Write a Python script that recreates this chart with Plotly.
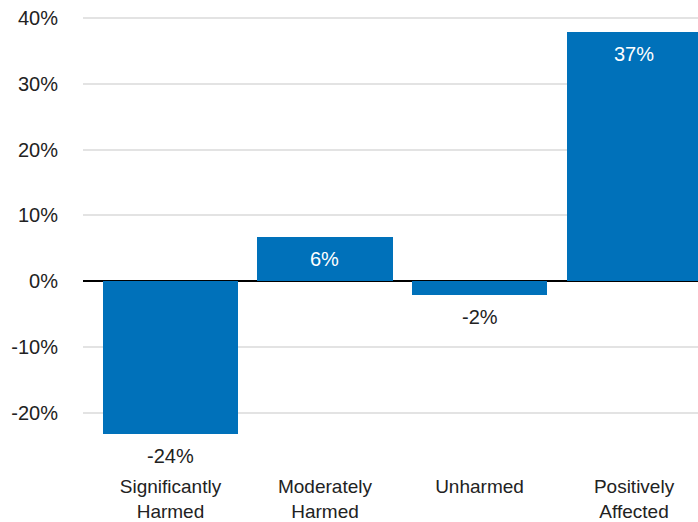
import plotly.graph_objects as go

categories = ["Significantly<br>Harmed", "Moderately<br>Harmed", "Unharmed", "Positively<br>Affected"]
values = [-23.2, 6.8, -2.0, 37.8]
value_labels = ["-24%", "6%", "-2%", "37%"]
label_colors = ["#222222", "#ffffff", "#222222", "#ffffff"]
y_ticks = [-20, -10, 0, 10, 20, 30, 40]
y_tick_text = ["-20%", "-10%", "0%", "10%", "20%", "30%", "40%"]

FONT = "Liberation Sans, Arial, Helvetica, sans-serif"
BAR = "#0071BA"

xs = list(range(len(categories)))

fig = go.Figure()
fig.add_trace(go.Bar(
    x=xs, y=values, width=0.874,
    marker=dict(color=BAR, line=dict(width=0)),
    hoverinfo="skip",
))

for i, (v, t, c) in enumerate(zip(values, value_labels, label_colors)):
    fig.add_annotation(
        x=i, y=v, text=t, showarrow=False,
        yanchor="middle", xanchor="center",
        yshift=-22,
        font=dict(family=FONT, size=20, color=c),
    )

fig.update_layout(
    width=698, height=522,
    margin=dict(l=83, r=0, t=10, b=76),
    plot_bgcolor="white", paper_bgcolor="white",
    showlegend=False,
    bargap=0,
    font=dict(family=FONT, size=20, color="#222222"),
    xaxis=dict(
        tickmode="array", tickvals=xs, ticktext=categories,
        range=[-0.566, 3.414], automargin=False,
        showgrid=False, zeroline=False, showline=False,
        ticks="", ticklabelstandoff=27,
        tickfont=dict(family=FONT, size=19, color="#222222"),
    ),
    yaxis=dict(
        tickmode="array", tickvals=y_ticks, ticktext=y_tick_text,
        range=[-25, 41.2], automargin=False,
        showgrid=True, gridcolor="#e3e3e3", gridwidth=1.5,
        zeroline=True, zerolinecolor="#000000", zerolinewidth=1.5,
        showline=False, ticks="", ticklabelstandoff=24,
        tickfont=dict(family=FONT, size=20, color="#222222"),
    ),
)

fig.write_html("out.html")
